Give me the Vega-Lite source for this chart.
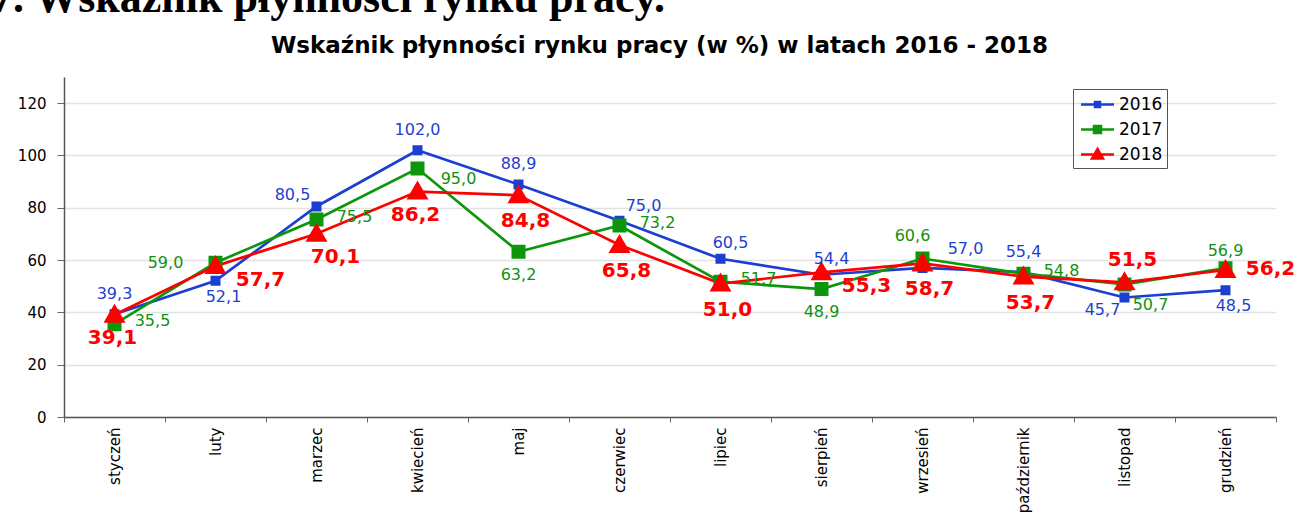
{
  "$schema": "https://vega.github.io/schema/vega-lite/v6.json",
  "autosize": {"type": "none"},
  "padding": {"left": 64, "top": 77, "right": 33, "bottom": 96},
  "width": 1212,
  "height": 340,
  "background": "white",
  "title": {
    "text": "Wykres 7. Wskaźnik płynności rynku pracy.",
    "anchor": "end",
    "frame": "group",
    "font": "Liberation Serif",
    "fontSize": 44,
    "fontWeight": "bold",
    "color": "#000000",
    "dx": -611,
    "offset": 13
  },
  "data": {
    "values": [
      {"m": "styczeń", "rok": "2016", "v": 39.3},
      {"m": "luty", "rok": "2016", "v": 52.1},
      {"m": "marzec", "rok": "2016", "v": 80.5},
      {"m": "kwiecień", "rok": "2016", "v": 102.0},
      {"m": "maj", "rok": "2016", "v": 88.9},
      {"m": "czerwiec", "rok": "2016", "v": 75.0},
      {"m": "lipiec", "rok": "2016", "v": 60.5},
      {"m": "sierpień", "rok": "2016", "v": 54.4},
      {"m": "wrzesień", "rok": "2016", "v": 57.0},
      {"m": "październik", "rok": "2016", "v": 55.4},
      {"m": "listopad", "rok": "2016", "v": 45.7},
      {"m": "grudzień", "rok": "2016", "v": 48.5},
      {"m": "styczeń", "rok": "2017", "v": 35.5},
      {"m": "luty", "rok": "2017", "v": 59.0},
      {"m": "marzec", "rok": "2017", "v": 75.5},
      {"m": "kwiecień", "rok": "2017", "v": 95.0},
      {"m": "maj", "rok": "2017", "v": 63.2},
      {"m": "czerwiec", "rok": "2017", "v": 73.2},
      {"m": "lipiec", "rok": "2017", "v": 51.7},
      {"m": "sierpień", "rok": "2017", "v": 48.9},
      {"m": "wrzesień", "rok": "2017", "v": 60.6},
      {"m": "październik", "rok": "2017", "v": 54.8},
      {"m": "listopad", "rok": "2017", "v": 50.7},
      {"m": "grudzień", "rok": "2017", "v": 56.9},
      {"m": "styczeń", "rok": "2018", "v": 39.1},
      {"m": "luty", "rok": "2018", "v": 57.7},
      {"m": "marzec", "rok": "2018", "v": 70.1},
      {"m": "kwiecień", "rok": "2018", "v": 86.2},
      {"m": "maj", "rok": "2018", "v": 84.8},
      {"m": "czerwiec", "rok": "2018", "v": 65.8},
      {"m": "lipiec", "rok": "2018", "v": 51.0},
      {"m": "sierpień", "rok": "2018", "v": 55.3},
      {"m": "wrzesień", "rok": "2018", "v": 58.7},
      {"m": "październik", "rok": "2018", "v": 53.7},
      {"m": "listopad", "rok": "2018", "v": 51.5},
      {"m": "grudzień", "rok": "2018", "v": 56.2}
    ]
  },
  "encoding": {
    "x": {
      "field": "m",
      "type": "nominal",
      "sort": ["styczeń", "luty", "marzec", "kwiecień", "maj", "czerwiec", "lipiec", "sierpień", "wrzesień", "październik", "listopad", "grudzień"],
      "scale": {"type": "band", "paddingInner": 0, "paddingOuter": 0},
      "axis": {
        "title": null,
        "labelAngle": 270,
        "labelAlign": "right",
        "labelBaseline": "middle",
        "labelFont": "DejaVu Sans",
        "labelFontSize": 15,
        "labelColor": "#000000",
        "labelPadding": 5,
        "tickSize": 5,
        "tickBand": "extent",
        "tickColor": "#666666",
        "domainColor": "#555555",
        "domainWidth": 1.5,
        "grid": false
      }
    },
    "y": {
      "field": "v",
      "type": "quantitative",
      "scale": {"domain": [0, 130], "nice": false, "zero": true},
      "axis": {
        "values": [0, 20, 40, 60, 80, 100, 120],
        "labelFont": "DejaVu Sans",
        "labelFontSize": 15,
        "labelColor": "#000000",
        "labelPadding": 11,
        "tickSize": 7,
        "tickColor": "#666666",
        "domainColor": "#555555",
        "domainWidth": 1.5,
        "gridColor": "#e2e2e2",
        "gridWidth": 1.5,
        "title": "Wskaźnik płynności rynku pracy (w %) w latach 2016 - 2018",
        "titleAngle": 0,
        "titleX": 595,
        "titleY": -25,
        "titleAlign": "center",
        "titleBaseline": "alphabetic",
        "titleFont": "DejaVu Sans",
        "titleFontSize": 23,
        "titleFontWeight": "bold",
        "titleColor": "#000000"
      }
    }
  },
  "layer": [
    {
      "mark": {"type": "line", "strokeWidth": 2.7},
      "encoding": {
        "color": {
          "field": "rok",
          "type": "nominal",
          "scale": {"domain": ["2016", "2017", "2018"], "range": ["#1c3fd2", "#0c960c", "#ff0000"]},
          "legend": {
            "title": null,
            "orient": "none",
            "legendX": 1009,
            "legendY": 12,
            "strokeColor": "#555555",
            "padding": 4,
            "symbolSize": 400,
            "symbolOffset": 9,
            "symbolStrokeWidth": 2.5,
            "labelOffset": 10,
            "rowPadding": 5,
            "labelFont": "DejaVu Sans",
            "labelFontSize": 17,
            "labelColor": "#000000",
            "encode": {
              "symbols": {
                "update": {
                  "stroke": {"scale": "color", "field": "value"},
                  "fill": {"scale": "color", "field": "value"},
                  "strokeWidth": {"value": 2.5}
                }
              }
            }
          }
        }
      }
    },
    {
      "mark": {"type": "point", "filled": true, "opacity": 1, "strokeWidth": 0, "size": 1600},
      "encoding": {
        "color": {"field": "rok", "type": "nominal"},
        "shape": {
          "field": "rok",
          "type": "nominal",
          "scale": {
            "domain": ["2016", "2017", "2018"],
            "range": [
              "M-1.65,0H1.65M-0.25,-0.25H0.25V0.25H-0.25Z",
              "M-1.65,0H1.65M-0.35,-0.35H0.35V0.35H-0.35Z",
              "M-1.65,0H1.65M0,-0.55L0.55,0.4H-0.55Z"
            ]
          }
        }
      }
    },
    {
      "transform": [{"filter": {"and": [{"field": "rok", "equal": "2016"}, {"field": "m", "oneOf": ["styczeń", "kwiecień", "maj", "październik"]}]}}],
      "mark": {"type": "text", "font": "DejaVu Sans", "fontSize": 16, "color": "#1f3fd0", "dx": 0, "dy": -20},
      "encoding": {"text": {"field": "v", "type": "quantitative", "format": ".1f"}}
    },
    {
      "transform": [{"filter": {"and": [{"field": "rok", "equal": "2016"}, {"field": "m", "oneOf": ["lipiec", "sierpień"]}]}}],
      "mark": {"type": "text", "font": "DejaVu Sans", "fontSize": 16, "color": "#1f3fd0", "dx": 10, "dy": -16},
      "encoding": {"text": {"field": "v", "type": "quantitative", "format": ".1f"}}
    },
    {
      "transform": [{"filter": {"and": [{"field": "rok", "equal": "2016"}, {"field": "m", "oneOf": ["czerwiec"]}]}}],
      "mark": {"type": "text", "font": "DejaVu Sans", "fontSize": 16, "color": "#1f3fd0", "dx": 24, "dy": -15},
      "encoding": {"text": {"field": "v", "type": "quantitative", "format": ".1f"}}
    },
    {
      "transform": [{"filter": {"and": [{"field": "rok", "equal": "2016"}, {"field": "m", "oneOf": ["wrzesień"]}]}}],
      "mark": {"type": "text", "font": "DejaVu Sans", "fontSize": 16, "color": "#1f3fd0", "dx": 43, "dy": -19},
      "encoding": {"text": {"field": "v", "type": "quantitative", "format": ".1f"}}
    },
    {
      "transform": [{"filter": {"and": [{"field": "rok", "equal": "2016"}, {"field": "m", "oneOf": ["marzec"]}]}}],
      "mark": {"type": "text", "font": "DejaVu Sans", "fontSize": 16, "color": "#1f3fd0", "dx": -24, "dy": -11},
      "encoding": {"text": {"field": "v", "type": "quantitative", "format": ".1f"}}
    },
    {
      "transform": [{"filter": {"and": [{"field": "rok", "equal": "2016"}, {"field": "m", "oneOf": ["luty", "grudzień"]}]}}],
      "mark": {"type": "text", "font": "DejaVu Sans", "fontSize": 16, "color": "#1f3fd0", "dx": 8, "dy": 16},
      "encoding": {"text": {"field": "v", "type": "quantitative", "format": ".1f"}}
    },
    {
      "transform": [{"filter": {"and": [{"field": "rok", "equal": "2016"}, {"field": "m", "oneOf": ["listopad"]}]}}],
      "mark": {"type": "text", "font": "DejaVu Sans", "fontSize": 16, "color": "#1f3fd0", "dx": -22, "dy": 13},
      "encoding": {"text": {"field": "v", "type": "quantitative", "format": ".1f"}}
    },
    {
      "transform": [{"filter": {"and": [{"field": "rok", "equal": "2017"}, {"field": "m", "oneOf": ["styczeń", "marzec", "czerwiec", "lipiec", "październik"]}]}}],
      "mark": {"type": "text", "font": "DejaVu Sans", "fontSize": 16, "color": "#119111", "dx": 38, "dy": -3},
      "encoding": {"text": {"field": "v", "type": "quantitative", "format": ".1f"}}
    },
    {
      "transform": [{"filter": {"and": [{"field": "rok", "equal": "2017"}, {"field": "m", "oneOf": ["kwiecień"]}]}}],
      "mark": {"type": "text", "font": "DejaVu Sans", "fontSize": 16, "color": "#119111", "dx": 41, "dy": 10},
      "encoding": {"text": {"field": "v", "type": "quantitative", "format": ".1f"}}
    },
    {
      "transform": [{"filter": {"and": [{"field": "rok", "equal": "2017"}, {"field": "m", "oneOf": ["luty"]}]}}],
      "mark": {"type": "text", "font": "DejaVu Sans", "fontSize": 16, "color": "#119111", "dx": -50, "dy": 0},
      "encoding": {"text": {"field": "v", "type": "quantitative", "format": ".1f"}}
    },
    {
      "transform": [{"filter": {"and": [{"field": "rok", "equal": "2017"}, {"field": "m", "oneOf": ["maj", "sierpień"]}]}}],
      "mark": {"type": "text", "font": "DejaVu Sans", "fontSize": 16, "color": "#119111", "dx": 0, "dy": 23},
      "encoding": {"text": {"field": "v", "type": "quantitative", "format": ".1f"}}
    },
    {
      "transform": [{"filter": {"and": [{"field": "rok", "equal": "2017"}, {"field": "m", "oneOf": ["wrzesień"]}]}}],
      "mark": {"type": "text", "font": "DejaVu Sans", "fontSize": 16, "color": "#119111", "dx": -10, "dy": -23},
      "encoding": {"text": {"field": "v", "type": "quantitative", "format": ".1f"}}
    },
    {
      "transform": [{"filter": {"and": [{"field": "rok", "equal": "2017"}, {"field": "m", "oneOf": ["grudzień"]}]}}],
      "mark": {"type": "text", "font": "DejaVu Sans", "fontSize": 16, "color": "#119111", "dx": 0, "dy": -17},
      "encoding": {"text": {"field": "v", "type": "quantitative", "format": ".1f"}}
    },
    {
      "transform": [{"filter": {"and": [{"field": "rok", "equal": "2017"}, {"field": "m", "oneOf": ["listopad"]}]}}],
      "mark": {"type": "text", "font": "DejaVu Sans", "fontSize": 16, "color": "#119111", "dx": 26, "dy": 21},
      "encoding": {"text": {"field": "v", "type": "quantitative", "format": ".1f"}}
    },
    {
      "transform": [{"filter": {"and": [{"field": "rok", "equal": "2018"}, {"field": "m", "oneOf": ["styczeń", "kwiecień"]}]}}],
      "mark": {"type": "text", "font": "DejaVu Sans", "fontSize": 20, "fontWeight": "bold", "color": "#ff0000", "dx": -2, "dy": 23},
      "encoding": {"text": {"field": "v", "type": "quantitative", "format": ".1f"}}
    },
    {
      "transform": [{"filter": {"and": [{"field": "rok", "equal": "2018"}, {"field": "m", "oneOf": ["maj", "czerwiec", "lipiec", "wrzesień", "październik"]}]}}],
      "mark": {"type": "text", "font": "DejaVu Sans", "fontSize": 20, "fontWeight": "bold", "color": "#ff0000", "dx": 7, "dy": 26},
      "encoding": {"text": {"field": "v", "type": "quantitative", "format": ".1f"}}
    },
    {
      "transform": [{"filter": {"and": [{"field": "rok", "equal": "2018"}, {"field": "m", "oneOf": ["marzec"]}]}}],
      "mark": {"type": "text", "font": "DejaVu Sans", "fontSize": 20, "fontWeight": "bold", "color": "#ff0000", "dx": 19, "dy": 23},
      "encoding": {"text": {"field": "v", "type": "quantitative", "format": ".1f"}}
    },
    {
      "transform": [{"filter": {"and": [{"field": "rok", "equal": "2018"}, {"field": "m", "oneOf": ["luty", "sierpień"]}]}}],
      "mark": {"type": "text", "font": "DejaVu Sans", "fontSize": 20, "fontWeight": "bold", "color": "#ff0000", "dx": 45, "dy": 14},
      "encoding": {"text": {"field": "v", "type": "quantitative", "format": ".1f"}}
    },
    {
      "transform": [{"filter": {"and": [{"field": "rok", "equal": "2018"}, {"field": "m", "oneOf": ["grudzień"]}]}}],
      "mark": {"type": "text", "font": "DejaVu Sans", "fontSize": 20, "fontWeight": "bold", "color": "#ff0000", "dx": 45, "dy": -1},
      "encoding": {"text": {"field": "v", "type": "quantitative", "format": ".1f"}}
    },
    {
      "transform": [{"filter": {"and": [{"field": "rok", "equal": "2018"}, {"field": "m", "oneOf": ["listopad"]}]}}],
      "mark": {"type": "text", "font": "DejaVu Sans", "fontSize": 20, "fontWeight": "bold", "color": "#ff0000", "dx": 8, "dy": -22},
      "encoding": {"text": {"field": "v", "type": "quantitative", "format": ".1f"}}
    }
  ],
  "config": {
    "locale": {"number": {"decimal": ",", "thousands": " ", "grouping": [3], "currency": ["", " zł"]}},
    "view": {"stroke": null},
    "text": {"baseline": "middle", "align": "center"}
  }
}
